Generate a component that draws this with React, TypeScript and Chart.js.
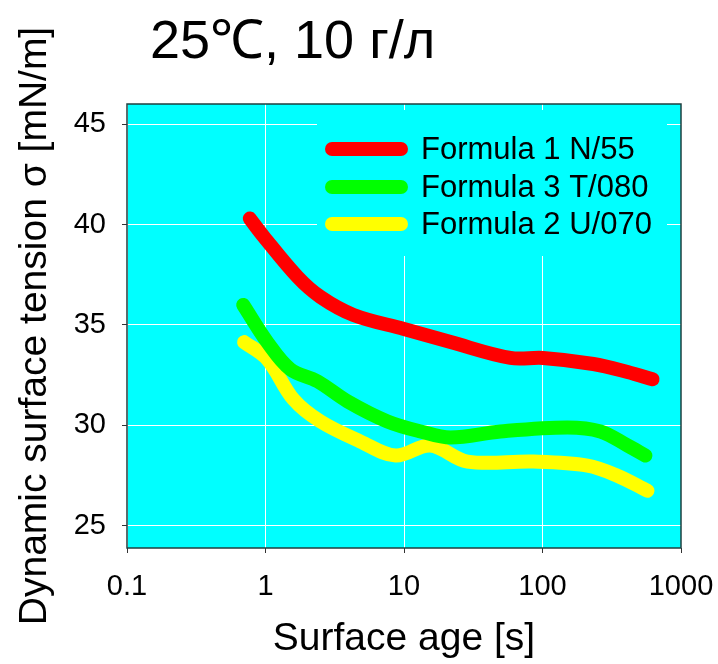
import React, { useEffect, useRef } from "react";
import { Chart, registerables } from "chart.js";

Chart.register(...registerables);

const titleText = "25℃, 10 г/л";
const xTitle = "Surface age [s]";
const yTitle = "Dynamic surface tension σ [mN/m]";
const xTickValues = [0.1, 1, 10, 100, 1000];
const yTickValues = [25, 30, 35, 40, 45];

const seriesNames = ["Formula 1 N/55", "Formula 3 T/080", "Formula 2 U/070"];
const seriesColors = ["#ff0000", "#00ff00", "#ffff00"];

const redAge = [0.77, 0.97, 1.7, 2.49, 4.32, 10, 21.7, 58.7, 101, 233, 411, 623];
const redTension = [40.3, 39.4, 37.4, 36.4, 35.5, 34.8, 34.15, 33.36, 33.36, 33.06, 32.66, 32.3];

const greenAge = [0.69, 1.03, 1.51, 2.37, 3.91, 7.6, 13.2, 21.7, 49.7, 151, 262, 411, 554];
const greenTension = [36.0, 34.15, 32.8, 32.2, 31.2, 30.2, 29.7, 29.4, 29.7, 29.9, 29.7, 29.0, 28.5];

const yellowAge = [0.7, 1.03, 1.59, 2.49, 4.85, 8.7, 15.5, 28.7, 86, 211, 347, 573];
const yellowTension = [34.15, 33.3, 31.3, 30.2, 29.2, 28.5, 29.0, 28.2, 28.2, 28.0, 27.5, 26.75];

const FONT = "'Liberation Sans', Arial, Helvetica, sans-serif";

const toPoints = (xs: number[], ys: number[]) => xs.map((x, i) => ({ x, y: ys[i] }));

const decorPlugin = {
  id: "decor",
  beforeDraw(chart: any) {
    const { ctx, chartArea: a } = chart;
    ctx.save();
    ctx.fillStyle = "#ffffff";
    ctx.fillRect(0, 0, chart.width, chart.height);
    ctx.fillStyle = "#00ffff";
    ctx.fillRect(a.left, a.top, a.right - a.left, a.bottom - a.top);
    ctx.restore();
  },
  afterDraw(chart: any) {
    const { ctx, chartArea: a } = chart;
    ctx.save();
    // legend box
    const bx = 317, by = 110, bw = 350, bh = 146;
    ctx.fillStyle = "#00ffff";
    ctx.fillRect(bx, by, bw, bh);
    const rows = [149, 187, 224];
    chart.data.datasets.forEach((ds: any, i: number) => {
      ctx.strokeStyle = ds.borderColor;
      ctx.lineWidth = 14;
      ctx.lineCap = "round";
      ctx.beginPath();
      ctx.moveTo(332, rows[i]);
      ctx.lineTo(401, rows[i]);
      ctx.stroke();
      ctx.fillStyle = "#000";
      ctx.font = `31px ${FONT}`;
      ctx.textBaseline = "middle";
      ctx.textAlign = "left";
      ctx.fillText(ds.label, 421, rows[i] + 1);
    });
    // frame
    ctx.strokeStyle = "#1f3f3f";
    ctx.lineWidth = 1.5;
    ctx.strokeRect(a.left, a.top, a.right - a.left, a.bottom - a.top);
    // title
    ctx.fillStyle = "#000";
    ctx.font = `54px ${FONT}`;
    ctx.textAlign = "left";
    ctx.textBaseline = "alphabetic";
    ctx.fillText(titleText, 150, 58);
    ctx.restore();
  },
};

export default function App() {
  const ref = useRef<HTMLCanvasElement | null>(null);
  useEffect(() => {
    if (!ref.current) return;
    const datasets = [
      toPoints(redAge, redTension),
      toPoints(greenAge, greenTension),
      toPoints(yellowAge, yellowTension),
    ].map((pts, i) => ({
      label: seriesNames[i],
      data: pts,
      borderColor: seriesColors[i],
      backgroundColor: seriesColors[i],
      borderWidth: 14,
      borderCapStyle: "round" as const,
      borderJoinStyle: "round" as const,
      pointRadius: 0,
      tension: 0.35,
      fill: false,
    }));
    const chart = new Chart(ref.current, {
      type: "line",
      data: { datasets },
      options: {
        animation: false,
        responsive: false,
        maintainAspectRatio: false,
        layout: { padding: { top: 104, right: 37, left: 0, bottom: 0 } },
        plugins: {
          legend: { display: false },
          title: { display: false },
          tooltip: { enabled: false },
        },
        scales: {
          x: {
            type: "logarithmic",
            min: 0.1,
            max: 1000,
            afterBuildTicks: (s: any) => {
              s.ticks = xTickValues.map((v) => ({ value: v }));
            },
            afterFit: (s: any) => {
              s.height = 116;
              s.paddingLeft = 0;
              s.paddingRight = 0;
            },
            ticks: {
              autoSkip: false,
              maxRotation: 0,
              padding: 17,
              color: "#000",
              font: { family: FONT, size: 29 },
              callback: (v: any) => String(v),
            },
            grid: {
              color: "#ffffff",
              lineWidth: 1,
              tickColor: "#333333",
              tickLength: 5,
              tickWidth: 1,
            },
            border: { display: false },
            title: {
              display: true,
              text: xTitle,
              color: "#000",
              font: { family: FONT, size: 39 },
              padding: { top: 0, bottom: 1 },
            },
          },
          y: {
            type: "linear",
            min: 23.9,
            max: 46,
            afterBuildTicks: (s: any) => {
              s.ticks = yTickValues.map((v) => ({ value: v }));
            },
            afterFit: (s: any) => {
              s.width = 127;
              s.paddingTop = 0;
              s.paddingBottom = 0;
            },
            ticks: {
              padding: 16,
              color: "#000",
              font: { family: FONT, size: 29 },
              callback: (v: any) => String(v),
            },
            grid: {
              color: "#ffffff",
              lineWidth: 1,
              tickColor: "#333333",
              tickLength: 5,
              tickWidth: 1,
            },
            border: { display: false },
            title: {
              display: true,
              text: yTitle,
              color: "#000",
              font: { family: FONT, size: 39 },
              padding: { top: 12, bottom: 0 },
            },
          },
        },
      },
      plugins: [decorPlugin],
    });
    return () => chart.destroy();
  }, []);
  return (
    <div style={{ position: "absolute", left: 0, top: 0, width: 718, height: 664 }}>
      <canvas ref={ref} width={718} height={664} style={{ display: "block", width: 718, height: 664 }} />
    </div>
  );
}
